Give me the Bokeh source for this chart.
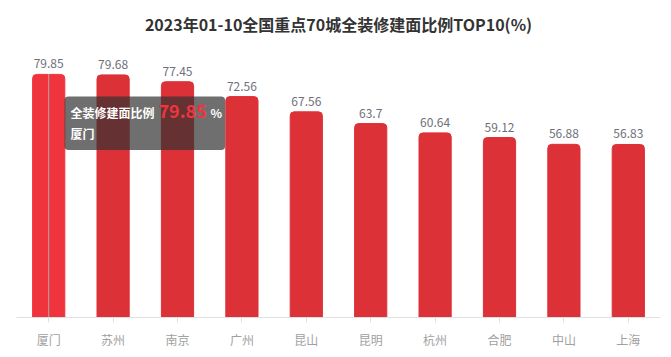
from bokeh.plotting import figure
from bokeh.models import ColumnDataSource, FactorRange, Range1d, BoxAnnotation, Label
from bokeh.core.properties import value
from bokeh.embed import file_html
from bokeh.resources import INLINE

cities = ["厦门", "苏州", "南京", "广州", "昆山", "昆明", "杭州", "合肥", "中山", "上海"]
values = [79.85, 79.68, 77.45, 72.56, 67.56, 63.7, 60.64, 59.12, 56.88, 56.83]
value_labels = ["79.85", "79.68", "77.45", "72.56", "67.56", "63.7", "60.64", "59.12", "56.88", "56.83"]
series_name = "全装修建面比例"
unit = "%"
title = "2023年01-10全国重点70城全装修建面比例TOP10(%)"
highlight = 0
y_max = 80

FONT = "Noto Sans CJK SC"
colors = ["#f0343d" if i == highlight else "#dc3137" for i in range(len(cities))]

src = ColumnDataSource(dict(x=cities, top=values, lab=value_labels, color=colors))

p = figure(width=671, height=357, output_backend="svg", toolbar_location=None,
           x_range=FactorRange(*cities, range_padding=0), y_range=Range1d(0, 90),
           min_border_left=16, min_border_right=11, min_border_top=43, min_border_bottom=40,
           title=title)
p.title.align = "center"
p.title.text_font = FONT
p.title.text_font_size = "16px"
p.title.text_font_style = "bold"
p.title.text_color = "#333333"
p.title.standoff = 16
p.outline_line_color = None
p.background_fill_color = "white"
p.border_fill_color = "white"
p.xgrid.grid_line_color = None
p.ygrid.grid_line_color = None
p.yaxis.visible = False

p.vbar(x="x", top="top", width=0.5, source=src, fill_color="color", line_color="color",
       border_radius=(4, 4, 0, 0))

# axis pointer
p.segment(x0=[cities[highlight]], y0=[0], x1=[cities[highlight]], y1=[y_max],
          line_color="#a9a9a9", line_width=1)

p.text(x="x", y="top", text="lab", source=src, text_align="center", text_baseline="bottom",
       y_offset=-6, text_font_size="12px", text_color="#6e7079", text_font=value(FONT))

xa = p.xaxis[0]
xa.axis_line_color = "#e0e0e0"
xa.major_tick_line_color = "#e0e0e0"
xa.major_tick_in = 0
xa.major_tick_out = 5
xa.minor_tick_line_color = None
xa.major_label_text_color = "#a0a0a0"
xa.major_label_text_font = FONT
xa.major_label_text_font_size = "12px"
xa.major_label_standoff = 8

# tooltip
tx, ty = 0.745, 72.6
tip = BoxAnnotation(left=tx, right=3.24, top=ty, bottom=55.0,
                    fill_color="#323232", fill_alpha=0.7, line_color=None,
                    border_radius=4)
p.add_layout(tip)
common = dict(x=tx, y=ty, text_font=FONT, text_font_style="bold", text_baseline="middle")
p.add_layout(Label(x_offset=6, y_offset=-16, text=series_name, text_color="white",
                   text_font_size="12px", **common))
p.add_layout(Label(x_offset=94, y_offset=-15, text=value_labels[highlight], text_color="#f0343d",
                   text_font_size="18px", **common))
p.add_layout(Label(x_offset=146, y_offset=-16, text=unit, text_color="white",
                   text_font_size="12px", **common))
p.add_layout(Label(x_offset=6, y_offset=-37, text=cities[highlight], text_color="white",
                   text_font_size="12px", **common))

open("out.html", "w").write(file_html(p, INLINE))
